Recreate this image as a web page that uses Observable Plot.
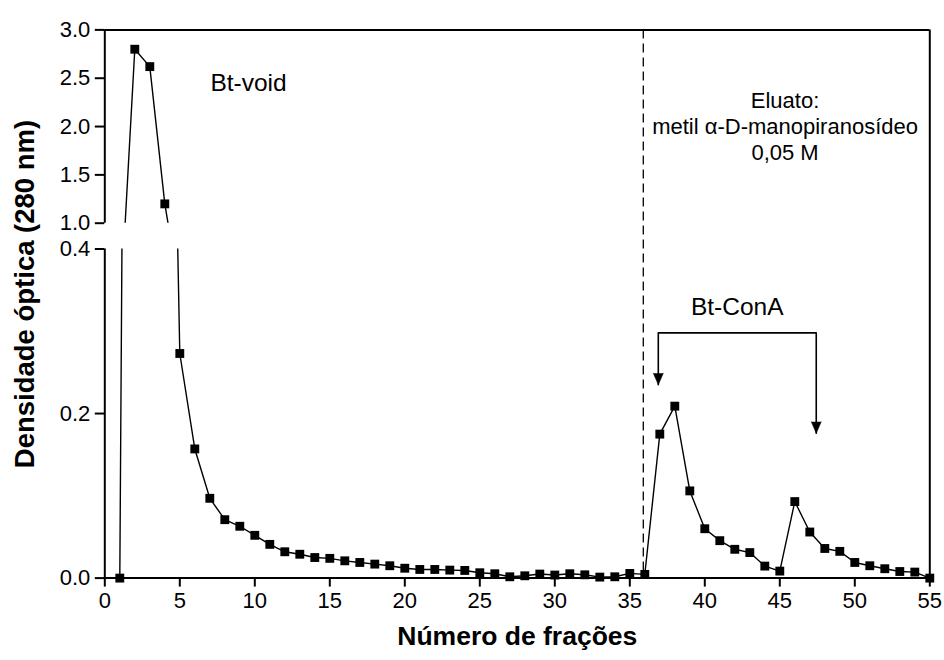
<!DOCTYPE html>
<html><head><meta charset="utf-8">
<script src="https://cdn.jsdelivr.net/npm/d3@7"></script>
<script src="https://cdn.jsdelivr.net/npm/@observablehq/plot@0.6"></script>
<style>
body{margin:0;background:#fff;}
#chart{position:relative;width:944px;height:660px;background:#fff;}
#chart svg{position:absolute;left:0;top:0;}
</style></head><body><div id="chart"></div>
<script>
const fractions = [1,2,3,4,5,6,7,8,9,10,11,12,13,14,15,16,17,18,19,20,21,22,23,24,25,26,27,28,29,30,31,32,33,34,35,36,37,38,39,40,41,42,43,44,45,46,47,48,49,50,51,52,53,54,55];
const density = [0,2.80,2.62,1.20,0.273,0.157,0.097,0.071,0.063,0.052,0.041,0.032,0.029,0.025,0.024,0.021,0.019,0.017,0.015,0.012,0.0105,0.0105,0.0097,0.0093,0.0065,0.0053,0.0016,0.0028,0.0049,0.0037,0.0053,0.004,0.0012,0.0016,0.0057,0.0045,0.175,0.209,0.106,0.060,0.0455,0.035,0.031,0.0146,0.0085,0.093,0.056,0.036,0.0325,0.019,0.015,0.0114,0.008,0.0073,0];
const xTicks = [0,5,10,15,20,25,30,35,40,45,50,55];
const lowerTicks = [0, 0.2, 0.4];
const upperTicks = [1.0, 1.5, 2.0, 2.5, 3.0];
const xLabel = "Número de frações";
const yLabel = "Densidade óptica (280 nm)";
const voidLabel = "Bt-void";
const conALabel = "Bt-ConA";
const eluateLines = ["Eluato:", "metil α-D-manopiranosídeo", "0,05 M"];
const separatorFraction = 35.9;
const bracketX = [36.9, 36.9, 47.43, 47.43];
const bracketY = [0.235, 0.298, 0.298, 0.176];

const data = fractions.map((x, i) => ({x, y: density[i]}));
const FONT = "Liberation Sans, Arial, Helvetica, sans-serif";
const fmt = d3.format(".1f");
const common = {
  width: 944, height: 660, marginLeft: 104.3, marginRight: 14.7,
  style: {background: "transparent", fontFamily: FONT, color: "black", overflow: "visible"}
};

const chrome = Plot.plot({
  ...common, marginTop: 29.4, marginBottom: 82.4,
  x: {domain: [0, 55], axis: null},
  marks: [
    Plot.ruleX([55], {strokeWidth: 2}),
    Plot.ruleX([separatorFraction], {strokeWidth: 1.3, strokeDasharray: "9,5"}),
    Plot.text([yLabel], {text: d => d, frameAnchor: "left", textAnchor: "middle", lineAnchor: "middle", rotate: -90, dx: -80, dy: -10, fontSize: 27.5, fontWeight: "bold", fontFamily: FONT}),
    Plot.text([xLabel], {text: d => d, frameAnchor: "bottom", textAnchor: "middle", lineAnchor: "middle", dy: 58, fontSize: 26.5, fontWeight: "bold", fontFamily: FONT})
  ]
});

const lower = Plot.plot({
  ...common, marginTop: 248.5, marginBottom: 82.4,
  x: {domain: [0, 55]},
  y: {domain: [0, 0.4]},
  marks: [
    Plot.axisY({ticks: lowerTicks, tickFormat: fmt, tickSize: 9.5, tickPadding: 5, fontSize: 22, label: null, strokeWidth: 2, fontFamily: FONT}),
    Plot.axisX({ticks: xTicks, tickSize: 9, tickPadding: 5, fontSize: 22, label: null, strokeWidth: 2, fontFamily: FONT}),
    Plot.ruleX([0], {strokeWidth: 2}),
    Plot.ruleY([0], {strokeWidth: 2}),
    Plot.line(data, {x: "x", y: "y", stroke: "black", strokeWidth: 1.4, clip: true}),
    Plot.dot(data, {filter: d => d.y <= 0.4, x: "x", y: "y", symbol: "square", r: 5, fill: "black"}),
    Plot.line(bracketX, {x: bracketX, y: bracketY, stroke: "black", strokeWidth: 1.6}),
    Plot.vector([0, 3], {x: i => bracketX[i], y: i => bracketY[i], length: 11.5, r: 5, rotate: 180, anchor: "end", shape: "spike", fill: "black", stroke: "black", strokeWidth: 0.5}),
    Plot.text([conALabel], {text: d => d, x: 42.16, y: 0.329, fontSize: 24.5, fontFamily: FONT})
  ]
});

const upper = Plot.plot({
  ...common, marginTop: 29.4, marginBottom: 437.3,
  x: {domain: [0, 55], axis: null},
  y: {domain: [1, 3]},
  marks: [
    Plot.axisY({ticks: upperTicks, tickFormat: fmt, tickSize: 9.5, tickPadding: 5, fontSize: 22, label: null, strokeWidth: 2, fontFamily: FONT}),
    Plot.ruleX([0], {strokeWidth: 2}),
    Plot.ruleY([3], {strokeWidth: 2}),
    Plot.line(data, {x: "x", y: "y", stroke: "black", strokeWidth: 1.4, clip: true}),
    Plot.dot(data, {filter: d => d.y >= 1, x: "x", y: "y", symbol: "square", r: 5, fill: "black"}),
    Plot.text([voidLabel], {text: d => d, x: 9.58, y: 2.446, fontSize: 24.5, fontFamily: FONT}),
    Plot.text([eluateLines.join("\n")], {text: d => d, x: 45.35, y: 2.01, fontSize: 22, lineHeight: 1.2, fontFamily: FONT})
  ]
});

const el = document.getElementById("chart");
el.append(chrome, lower, upper);
</script></body></html>
